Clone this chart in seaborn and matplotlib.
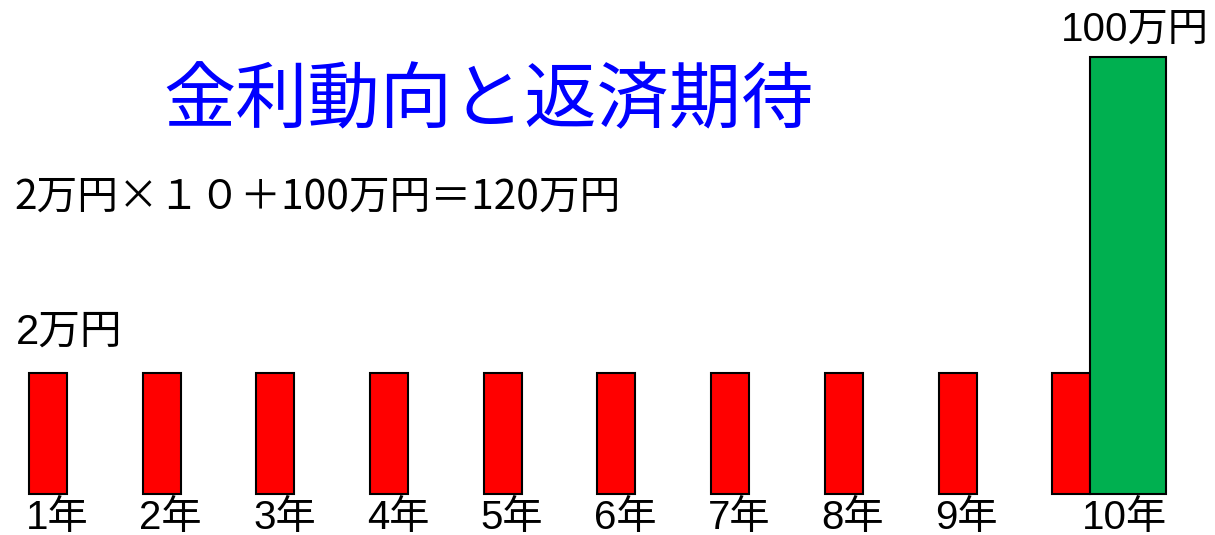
import matplotlib
matplotlib.use("Agg")
import matplotlib.pyplot as plt
import seaborn as sns
import pandas as pd

# ---- data ----
years = ["1年", "2年", "3年", "4年", "5年", "6年", "7年", "8年", "9年", "10年"]
annual_amount = [2, 2, 2, 2, 2, 2, 2, 2, 2, 2]          # 万円 per year
annual_height = [121, 121, 121, 121, 121, 121, 121, 121, 121, 121]  # illustrative bar height (not to scale)
principal_amount = 100                                   # 万円 repaid at year 10
principal_height = 437                                   # illustrative bar height
title_text = "金利動向と返済期待"
formula_text = "2万円×１０＋100万円＝120万円"
annual_label = "2万円"
principal_label = "100万円"

sns.set_theme(style="white")
plt.rcParams["font.family"] = ["Liberation Sans", "Noto Sans CJK JP", "DejaVu Sans"]

fig = plt.figure(figsize=(12.15, 5.35), dpi=100)
ax = fig.add_axes([0, 0, 1, 1])

pos = list(range(1, len(years) + 1))
df = pd.DataFrame({"pos": pos, "height": annual_height, "year": years})
sns.barplot(data=df, x="pos", y="height", native_scale=True, width=0.334,
            color="#FF0000", saturation=1, edgecolor="black", linewidth=1.5, ax=ax)

dfg = pd.DataFrame({"pos": [pos[-1] + 0.5], "height": [principal_height]})
sns.barplot(data=dfg, x="pos", y="height", native_scale=True, width=0.667,
            color="#00B050", saturation=1, edgecolor="black", linewidth=1.5, ax=ax)

ax.set_xlim(0.578, 11.264)
ax.set_ylim(-41, 494)
ax.axis("off")

FS = 29
# year labels
for i, y in enumerate(years):
    x = pos[i] + (0.47 if i == len(years) - 1 else 0.08)
    ax.text(x, -24, y, ha="center", va="center", fontsize=FS, color="black")

# value labels
ax.text(pos[0] + 0.19, annual_height[0] + 40, annual_label, ha="center", va="center",
        fontsize=30, color="black")
ax.text(pos[-1] + 0.56, principal_height + 27, principal_label, ha="center", va="center",
        fontsize=FS, color="black")

fig.text(163 / 1215, 1 - 103 / 535, title_text, ha="left", va="center", fontsize=52,
         color="#0000FF")
fig.text(14 / 1215, 1 - 197 / 535, formula_text, ha="left", va="center", fontsize=29.3,
         color="black", family=["Noto Sans CJK JP", "DejaVu Sans"])

fig.savefig("out.png", dpi=100)
